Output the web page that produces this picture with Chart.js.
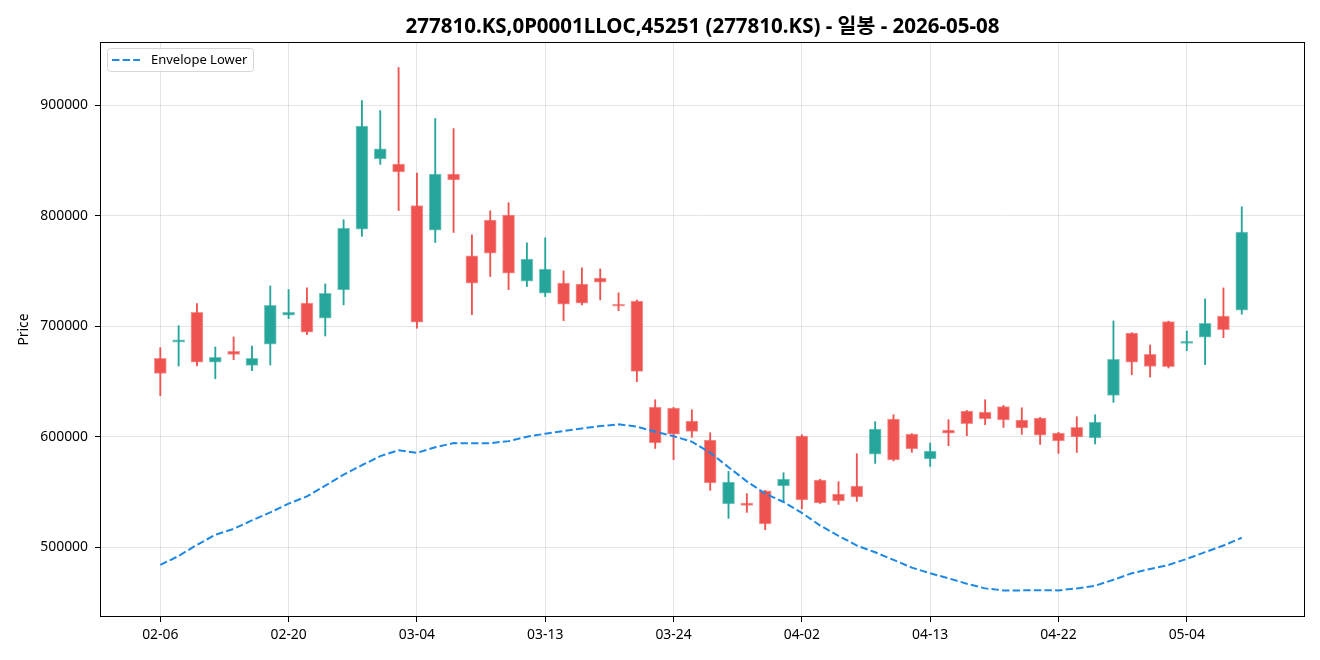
<!DOCTYPE html>
<html>
<head>
<meta charset="utf-8">
<script src="https://cdn.jsdelivr.net/npm/chart.js@4.4.1/dist/chart.umd.min.js"></script>
<style>
html, body { margin: 0; padding: 0; background: #fff; }
</style>
</head>
<body>
<canvas id="chart" width="1320" height="660"></canvas>
<script>
const dates = ['02-06', '02-09', '02-10', '02-11', '02-12', '02-13', '02-19', '02-20', '02-23', '02-24',
    '02-25', '02-26', '02-27', '03-03', '03-04', '03-05', '03-06', '03-09', '03-10', '03-11',
    '03-12', '03-13', '03-16', '03-17', '03-18', '03-19', '03-20', '03-23', '03-24', '03-25',
    '03-26', '03-27', '03-30', '03-31', '04-01', '04-02', '04-03', '04-06', '04-07', '04-08',
    '04-09', '04-10', '04-13', '04-14', '04-15', '04-16', '04-17', '04-20', '04-21', '04-22',
    '04-23', '04-24', '04-27', '04-28', '04-29', '04-30', '05-04', '05-06', '05-07', '05-08'];

const opens = [671000, 685500, 712700, 667400, 677300, 664600, 683700, 710000, 720900, 707300,
    732900, 787900, 851400, 846900, 809300, 787000, 837800, 763700, 796100, 800600,
    740800, 729900, 739000, 738100, 743500, 719900, 722700, 626900, 626000, 614200,
    597000, 539100, 540000, 550900, 555400, 600600, 560800, 548100, 555400, 584300,
    616000, 602400, 579800, 606100, 623300, 622400, 627200, 615100, 616900, 603300,
    608400, 598800, 637400, 693700, 674600, 704200, 684500, 690000, 709100, 714500];

const highs = [680600, 700500, 720500, 681200, 690300, 682100, 736500, 733200, 734700, 738300,
    796400, 904300, 895200, 934200, 838700, 888000, 878900, 782800, 804500, 811800,
    775500, 780100, 750100, 752900, 751900, 730200, 723800, 633500, 626500, 624400,
    603600, 568600, 548400, 551500, 567400, 601800, 561500, 559300, 584600, 613600,
    619900, 602800, 594300, 615400, 623800, 633500, 628300, 626200, 617500, 604000,
    618100, 619900, 704800, 694200, 683000, 704600, 695700, 724800, 734700, 808200];

const lows = [637100, 664000, 664000, 652500, 669700, 659800, 664900, 706900, 692400, 691200,
    719300, 781200, 846500, 804800, 698200, 775800, 784900, 710500, 745000, 733200,
    735900, 726800, 705100, 719300, 723800, 714100, 649800, 589400, 579200, 599400,
    551400, 526100, 531500, 515800, 541400, 534600, 539500, 538700, 541400, 575800,
    578000, 585800, 573100, 591900, 600900, 610900, 608400, 602100, 593000, 584900,
    585800, 593400, 631100, 656100, 654000, 662200, 677900, 665200, 689700, 710900];

const closes = [657400, 687600, 667400, 671900, 674600, 671000, 719000, 712700, 694600, 729900,
    788800, 881300, 860500, 839600, 703600, 837800, 832400, 739000, 766200, 748000,
    760700, 751700, 720000, 720900, 739900, 718100, 659200, 594300, 602400, 604800,
    558100, 559000, 537800, 521000, 561700, 542700, 540000, 541800, 545400, 607000,
    578900, 588900, 587100, 603300, 611800, 616000, 615100, 607900, 601500, 596100,
    599700, 613300, 670100, 667400, 663700, 663400, 685500, 702700, 696900, 785200];

const envLower = [483900, 492100, 502100, 511200, 516600, 524200, 531500, 539400, 546000, 555700,
    565700, 574200, 582400, 587800, 585400, 590500, 594200, 594000, 594200, 596000,
    600000, 602700, 605100, 607500, 609600, 611200, 609100, 604500, 600500, 595500,
    585500, 572400, 559600, 548500, 540900, 531000, 519600, 510300, 501500, 495400,
    488500, 481500, 476400, 471800, 466900, 462700, 460900, 460900, 461000, 460900,
    462700, 465100, 470500, 476400, 480300, 483900, 489400, 495500, 501500, 508500];

const priceTicks = [500000, 600000, 700000, 800000, 900000];
const dateTickIdx = [0, 7, 14, 21, 28, 35, 42, 49, 56];

const titleText = '277810.KS,0P0001LLOC,45251 (277810.KS) - 일봉 - 2026-05-08';
const upColor = '#26a69a';
const downColor = '#ef5350';
const envColor = '#1e88e5';
const fontFamily = '"Noto Sans", "Noto Sans CJK KR", sans-serif';

Chart.defaults.font.family = fontFamily;
Chart.defaults.color = '#000';

const isUp = opens.map((o, i) => closes[i] >= o);
const candleColors = isUp.map(u => u ? upColor : downColor);
const edgeColors = isUp.map(u => u ? 'rgba(38,166,154,0.6)' : 'rgba(239,83,80,0.6)');

const framePlugin = {
    id: 'frame',
    afterDraw(chart) {
        const { ctx, chartArea: a } = chart;
        ctx.save();
        ctx.strokeStyle = '#000';
        ctx.lineWidth = 1;
        ctx.strokeRect(a.left + 0.5, a.top + 0.5, a.right - a.left - 1, a.bottom - a.top - 1);
        ctx.restore();
    }
};

const boxLegend = {
    id: 'boxLegend',
    afterDraw(chart) {
        const { ctx, chartArea: a } = chart;
        const x = a.left + 7, y = a.top + 6, w = 146, h = 23;
        ctx.save();
        ctx.fillStyle = 'rgba(255,255,255,0.8)';
        ctx.strokeStyle = '#d6d6d6';
        ctx.lineWidth = 1;
        ctx.beginPath();
        ctx.roundRect(x + 0.5, y + 0.5, w, h, 3);
        ctx.fill();
        ctx.stroke();
        ctx.strokeStyle = envColor;
        ctx.lineWidth = 2;
        ctx.setLineDash([7.4, 3.2]);
        ctx.beginPath();
        ctx.moveTo(x + 5, y + 12);
        ctx.lineTo(x + 33, y + 12);
        ctx.stroke();
        ctx.setLineDash([]);
        ctx.fillStyle = '#000';
        ctx.font = '13px ' + fontFamily;
        ctx.textBaseline = 'middle';
        ctx.fillText('Envelope Lower', x + 44, y + 12);
        ctx.restore();
    }
};

const ctx = document.getElementById('chart');

new Chart(ctx, {
    data: {
        datasets: [
            {
                type: 'line',
                label: 'Envelope Lower',
                data: envLower.map((v, i) => ({ x: i, y: v })),
                borderColor: envColor,
                borderWidth: 2,
                borderDash: [7.4, 3.2],
                pointRadius: 0,
                tension: 0,
                order: 0
            },
            {
                type: 'bar',
                label: 'body',
                data: opens.map((o, i) => ({ x: i, y: [o, closes[i]] })),
                backgroundColor: candleColors,
                borderColor: edgeColors,
                borderWidth: 1,
                borderSkipped: false,
                barThickness: 12,
                minBarLength: 2,
                grouped: false,
                order: 1
            },
            {
                type: 'bar',
                label: 'wick',
                data: lows.map((l, i) => ({ x: i, y: [l, highs[i]] })),
                backgroundColor: candleColors,
                borderWidth: 0,
                barThickness: 1.2,
                grouped: false,
                order: 2
            }
        ]
    },
    options: {
        responsive: false,
        animation: false,
        devicePixelRatio: 1,
        layout: { padding: { left: 0, right: 15, top: 0, bottom: 0 } },
        plugins: {
            legend: { display: false },
            tooltip: { enabled: false },
            title: {
                display: true,
                text: titleText,
                fullSize: false,
                color: '#000',
                font: { size: 20.5, weight: 'bold' },
                padding: { top: 15, bottom: 2.4 }
            }
        },
        scales: {
            x: {
                type: 'linear',
                offset: false,
                min: -3.29,
                max: 62.45,
                afterBuildTicks: scale => { scale.ticks = dateTickIdx.map(v => ({ value: v })); },
                afterFit: scale => { scale.height = 43; },
                ticks: {
                    color: '#000',
                    font: { size: 13.9 },
                    padding: 5,
                    maxRotation: 0,
                    autoSkip: false,
                    callback: v => dates[v]
                },
                grid: {
                    offset: false,
                    color: 'rgba(0,0,0,0.1)',
                    tickColor: '#000',
                    tickLength: 5
                },
                border: { display: false }
            },
            y: {
                type: 'linear',
                min: 436800,
                max: 957300,
                afterBuildTicks: scale => { scale.ticks = priceTicks.map(v => ({ value: v })); },
                afterFit: scale => { scale.width = 100; },
                ticks: {
                    color: '#000',
                    font: { size: 13.9 },
                    padding: 7,
                    callback: v => String(v)
                },
                grid: {
                    color: 'rgba(0,0,0,0.1)',
                    tickColor: '#000',
                    tickLength: 5
                },
                border: { display: false },
                title: {
                    display: true,
                    text: 'Price',
                    color: '#000',
                    font: { size: 13.9 },
                    padding: { top: 16, bottom: 0 }
                }
            }
        }
    },
    plugins: [framePlugin, boxLegend]
});
</script>
</body>
</html>
